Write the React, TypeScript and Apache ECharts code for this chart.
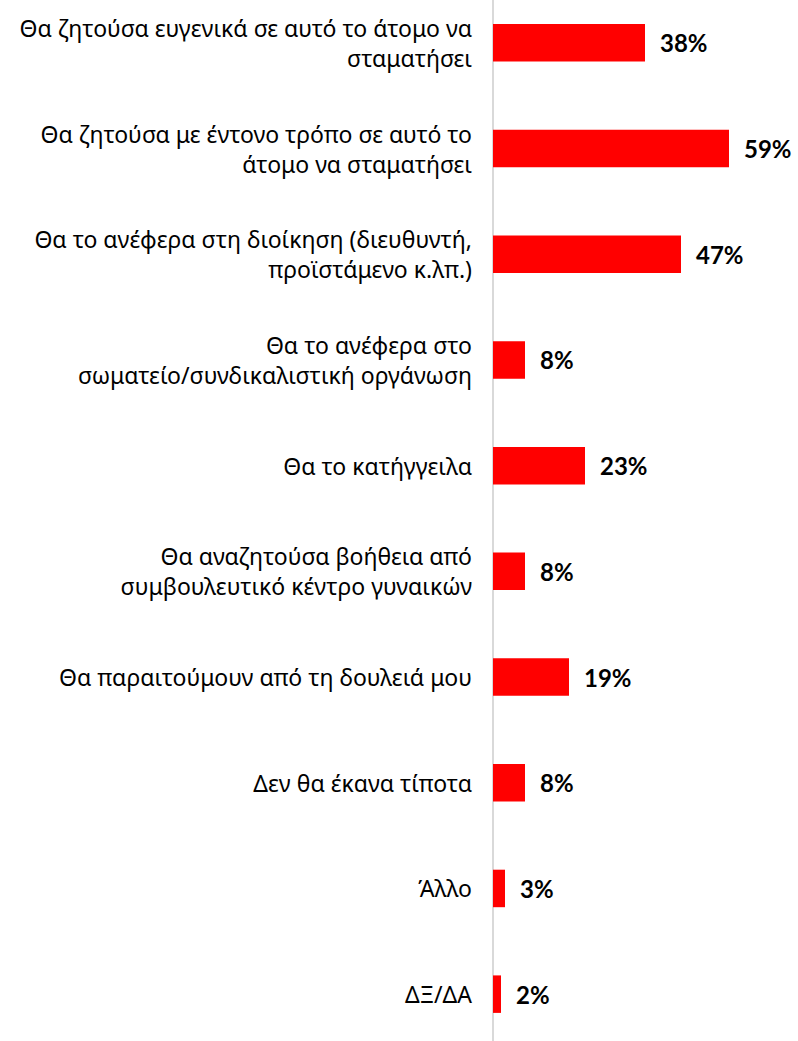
import React, { useEffect, useRef } from "react";
import * as echarts from "echarts";

const categories = [
  "Θα ζητούσα ευγενικά σε αυτό το άτομο να\nσταματήσει",
  "Θα ζητούσα με έντονο τρόπο σε αυτό το\nάτομο να σταματήσει",
  "Θα το ανέφερα στη διοίκηση (διευθυντή,\nπροϊστάμενο κ.λπ.)",
  "Θα το ανέφερα στο\nσωματείο/συνδικαλιστική οργάνωση",
  "Θα το κατήγγειλα",
  "Θα αναζητούσα βοήθεια από\nσυμβουλευτικό κέντρο γυναικών",
  "Θα παραιτούμουν από τη δουλειά μου",
  "Δεν θα έκανα τίποτα",
  "Άλλο",
  "ΔΞ/ΔΑ",
];
const values = [38, 59, 47, 8, 23, 8, 19, 8, 3, 2];

export default function App() {
  const ref = useRef<HTMLDivElement>(null);
  useEffect(() => {
    if (!ref.current) return;
    const chart = echarts.init(ref.current, undefined, { renderer: "svg" });
    chart.setOption({
      animation: false,
      grid: { left: 493, right: 5, top: 0, bottom: 0, containLabel: false },
      xAxis: {
        type: "value",
        min: 0,
        max: 75,
        show: false,
      },
      yAxis: {
        type: "category",
        data: categories,
        inverse: true,
        axisLine: { show: true, lineStyle: { color: "#d9d9d9", width: 2 } },
        axisTick: { show: false },
        axisLabel: {
          margin: 21,
          color: "#000",
          fontSize: 23,
          lineHeight: 30,
          fontFamily: "Noto Sans",
          align: "right",
        },
      },
      series: [
        {
          type: "bar",
          data: values,
          barWidth: 37.5,
          itemStyle: { color: "#ff0000" },
          label: {
            show: true,
            position: "right",
            distance: 15,
            formatter: "{c}%",
            color: "#000",
            fontSize: 24,
            fontWeight: "bold",
            fontFamily: "Lato",
          },
        },
      ],
    });
    return () => chart.dispose();
  }, []);
  return (
    <div style={{ position: "absolute", left: 0, top: 0, width: 798, height: 1041, overflow: "hidden" }}>
      <div ref={ref} style={{ width: 798, height: 1057, position: "absolute", left: 0, top: -10 }} />
    </div>
  );
}
